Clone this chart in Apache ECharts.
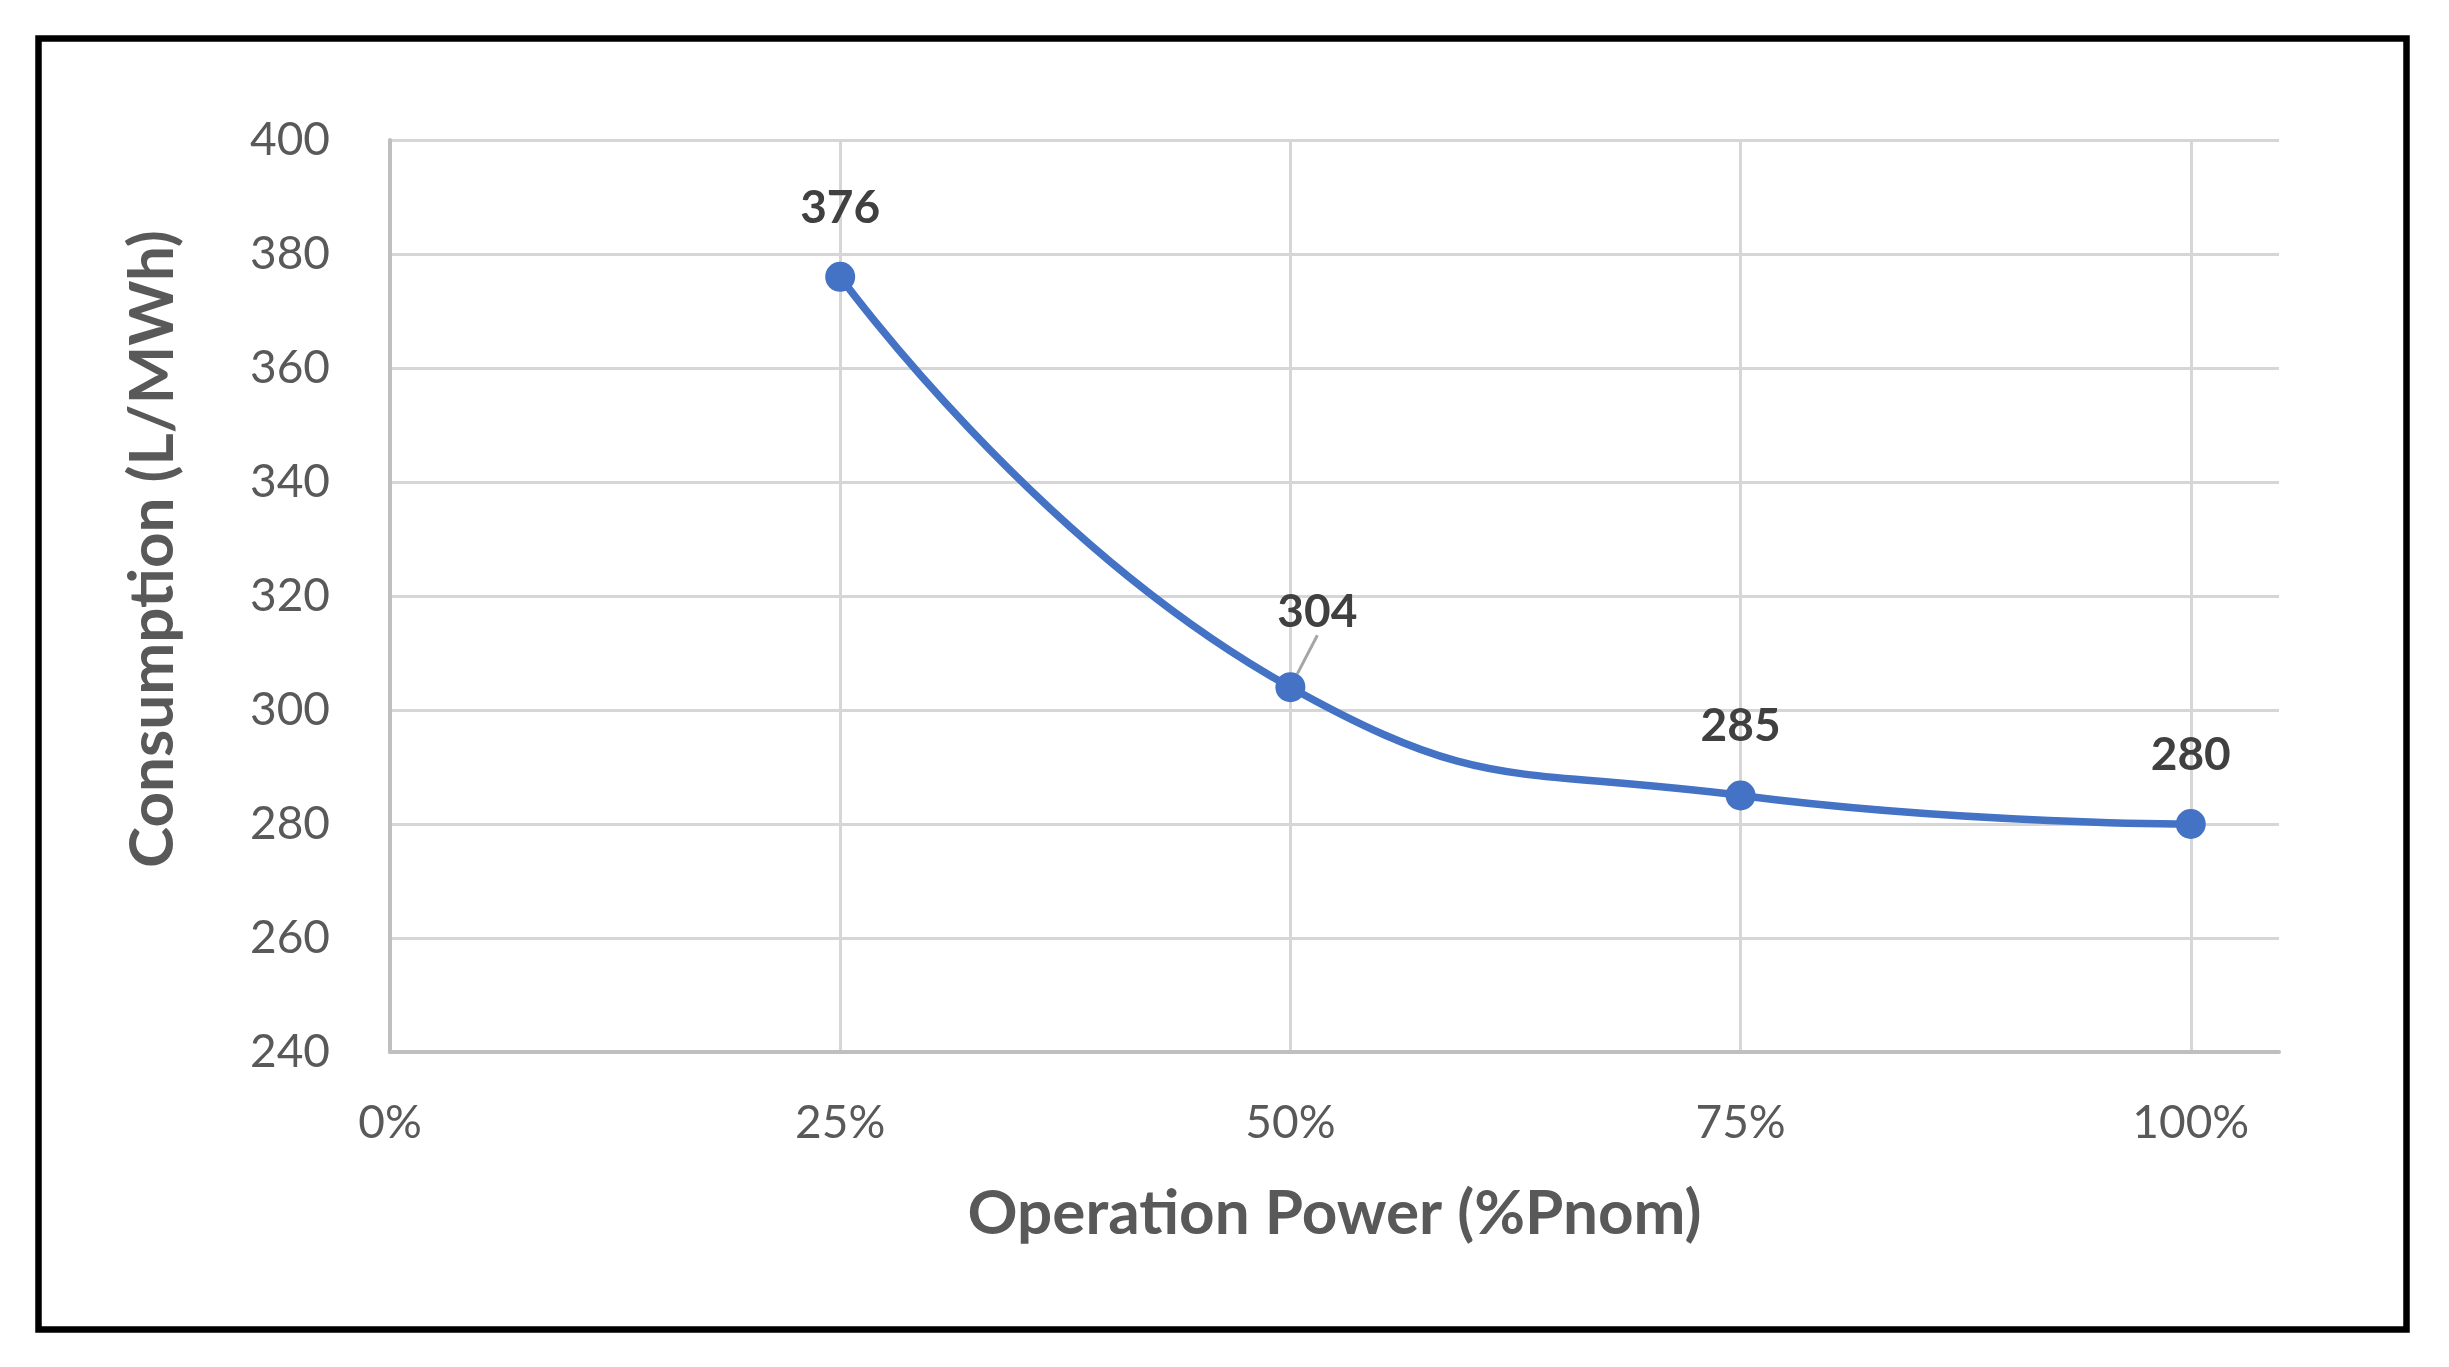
<!DOCTYPE html>
<html>
<head>
<meta charset="utf-8">
<script src="https://cdn.jsdelivr.net/npm/echarts@6/dist/echarts.min.js"></script>
<style>
html,body{margin:0;padding:0;background:#fff;}
#c{width:2449px;height:1367px;}
</style>
</head>
<body>
<div id="c"></div>
<script>
const operationPower = [0.25, 0.50, 0.75, 1.00];
const consumption = [376, 304, 285, 280];
const xTitle = 'Operation Power (%Pnom)';
const yTitle = 'Consumption (L/MWh)';

const chart = echarts.init(document.getElementById('c'));
const fontFam = 'Lato, "Open Sans", sans-serif';
const seriesData = operationPower.map((x, i) => {
  const item = { value: [x, consumption[i]] };
  if (i === 1) { item.labelLine = { show: true }; }
  return item;
});
chart.setOption({
  backgroundColor: '#ffffff',
  animation: false,
  graphic: [{
    type: 'rect',
    shape: { x: 38.5, y: 38.5, width: 2368, height: 1291 },
    style: { fill: 'none', stroke: '#000000', lineWidth: 6.5 },
    z: 100
  }],
  grid: { left: 390, right: 170, top: 140, bottom: 315, containLabel: false },
  xAxis: {
    type: 'value',
    min: 0,
    max: 1.049,
    interval: 0.25,
    name: xTitle,
    nameLocation: 'middle',
    nameGap: 131,
    nameTextStyle: { fontFamily: fontFam, fontSize: 62, fontWeight: 'bold', color: '#595959' },
    axisLine: { show: true, onZero: false, lineStyle: { color: '#bfbfbf', width: 4 } },
    axisTick: { show: false },
    axisLabel: {
      showMaxLabel: false,
      margin: 48,
      fontFamily: fontFam, fontSize: 46, color: '#595959',
      formatter: v => Math.round(v * 100) + '%'
    },
    splitLine: { show: true, showMaxLine: false, lineStyle: { color: '#d6d6d6', width: 3 } }
  },
  yAxis: {
    type: 'value',
    min: 240,
    max: 400,
    interval: 20,
    name: yTitle,
    nameLocation: 'middle',
    nameRotate: 90,
    nameGap: 206,
    nameTextStyle: { fontFamily: fontFam, fontSize: 62, fontWeight: 'bold', color: '#595959', padding: [0, 0, 0, 94] },
    axisLine: { show: true, lineStyle: { color: '#bfbfbf', width: 4 } },
    axisTick: { show: false },
    axisLabel: { margin: 60, fontFamily: fontFam, fontSize: 46, color: '#595959' },
    splitLine: { show: true, lineStyle: { color: '#d6d6d6', width: 3 } }
  },
  series: [{
    type: 'line',
    data: seriesData,
    smooth: 0.5,
    symbol: 'circle',
    symbolSize: 30,
    itemStyle: { color: '#4472c4' },
    lineStyle: { color: '#4472c4', width: 7.5 },
    label: {
      show: true,
      position: 'top',
      distance: 31,
      fontFamily: fontFam,
      fontSize: 46,
      fontWeight: 'bold',
      color: '#404040',
      formatter: p => p.value[1]
    },
    labelLine: { show: false, lineStyle: { color: '#a6a6a6', width: 3 } },
    labelLayout: function (params) {
      if (params.dataIndex === 1) {
        return { dx: 27, dy: -6 };
      }
      return {};
    }
  }]
});
</script>
</body>
</html>
